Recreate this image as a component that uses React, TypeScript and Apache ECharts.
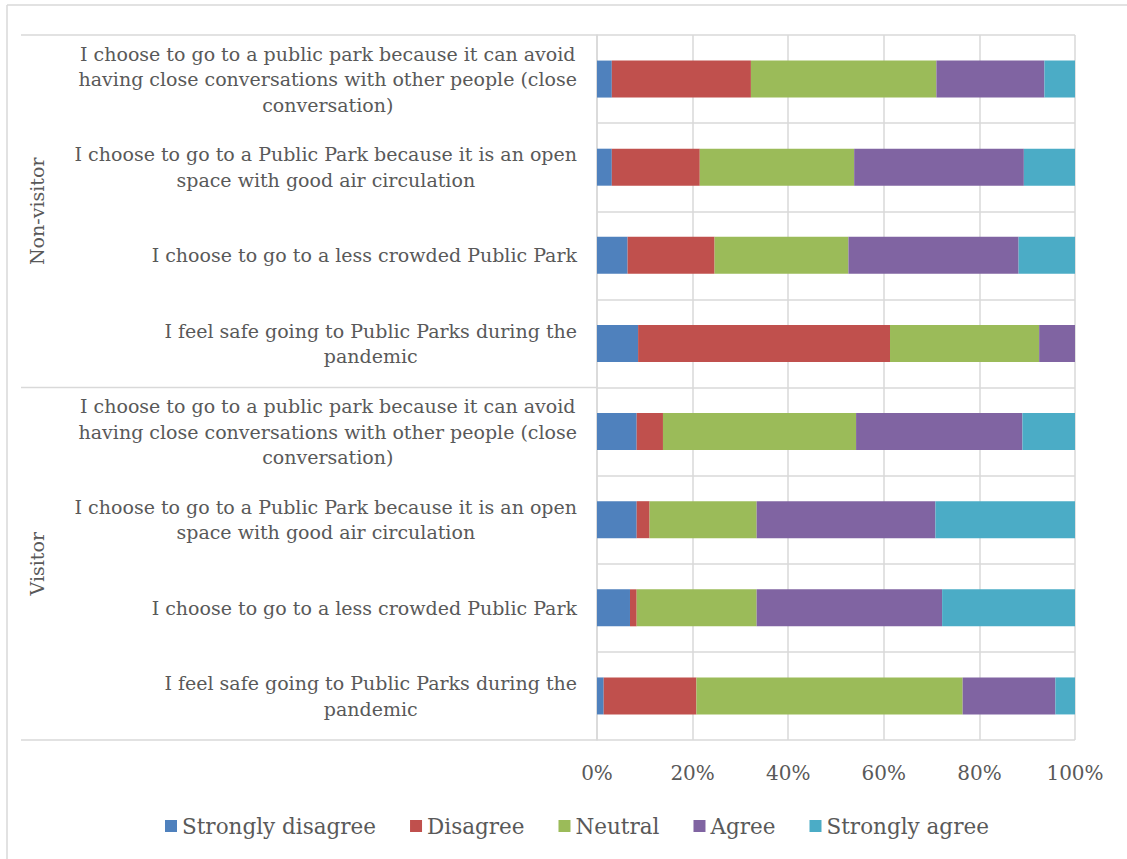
import React, { useEffect, useRef } from "react";
import * as echarts from "echarts";

const groups = ["Non-visitor", "Visitor"];
const questions = [
  "I choose to go to a public park because it can avoid\nhaving close conversations with other people (close\nconversation)",
  "I choose to go to a Public Park because it is an open\nspace with good air circulation",
  "I choose to go to a less crowded Public Park",
  "I feel safe going to Public Parks during the\npandemic",
];
const categories = [...questions, ...questions];

const seriesNames = ["Strongly disagree", "Disagree", "Neutral", "Agree", "Strongly agree"];
const stronglyDisagree = [3.1, 3.1, 6.4, 8.6, 8.3, 8.3, 6.9, 1.4];
const disagree = [29.1, 18.4, 18.2, 52.7, 5.5, 2.7, 1.4, 19.4];
const neutral = [38.8, 32.3, 28.0, 31.2, 40.4, 22.4, 25.1, 55.7];
const agree = [22.6, 35.5, 35.6, 7.5, 34.8, 37.4, 38.8, 19.4];
const stronglyAgree = [6.4, 10.7, 11.8, 0, 11.0, 29.2, 27.8, 4.1];
const seriesValues = [stronglyDisagree, disagree, neutral, agree, stronglyAgree];
const colors = ["#4f81bd", "#c0504d", "#9bbb59", "#8064a2", "#4bacc6"];
const xTicks = [0, 20, 40, 60, 80, 100];

const FONT = "DejaVu Serif";
const TEXT = "#595959";
const LINE = "#d9d9d9";

export default function App() {
  const ref = useRef<HTMLDivElement>(null);
  useEffect(() => {
    if (!ref.current) return;
    const chart = echarts.init(ref.current, null, { renderer: "svg" });
    chart.setOption({
      animation: false,
      backgroundColor: "#ffffff",
      grid: { left: 597, right: 52, top: 35, bottom: 119, containLabel: false },
      legend: {
        left: 160,
        top: 810,
        itemWidth: 12,
        itemHeight: 12,
        itemGap: 34,
        icon: "rect",
        textStyle: { fontFamily: FONT, fontSize: 21.5, color: TEXT },
        data: seriesNames,
      },
      xAxis: {
        type: "value",
        min: 0,
        max: xTicks[xTicks.length - 1],
        interval: 20,
        axisLine: { show: false },
        axisTick: { show: false },
        splitLine: { show: true, lineStyle: { color: LINE, width: 1.5 } },
        axisLabel: {
          fontFamily: FONT,
          fontSize: 20,
          color: TEXT,
          margin: 23,
          formatter: (v: number) => `${v}%`,
        },
      },
      yAxis: {
        type: "category",
        inverse: true,
        data: categories,
        axisLine: { show: true, lineStyle: { color: LINE, width: 1.5 } },
        axisTick: { show: false },
        splitLine: { show: true, lineStyle: { color: LINE, width: 1.5 } },
        axisLabel: {
          align: "right",
          margin: 20,
          interval: 0,
          formatter: (v: string) =>
            v
              .split("\n")
              .map((l) => `{c|${l}}`)
              .join("\n"),
          rich: {
            c: {
              align: "center",
              fontFamily: FONT,
              fontSize: 19,
              color: TEXT,
              lineHeight: 25.5,
            },
          },
        },
      },
      series: seriesNames.map((name, i) => ({
        name,
        type: "bar",
        stack: "total",
        barWidth: 37,
        itemStyle: { color: colors[i] },
        data: seriesValues[i],
      })),
    });

    const x0 = chart.convertToPixel({ xAxisIndex: 0 }, 0) as number;
    const yFirst = chart.convertToPixel({ yAxisIndex: 0 }, 0) as number;
    const yLast = chart.convertToPixel({ yAxisIndex: 0 }, categories.length - 1) as number;
    const step = (yLast - yFirst) / (categories.length - 1);
    const top = yFirst - step / 2;
    const per = questions.length;
    const graphics: any[] = [
      { type: "line", shape: { x1: 7, y1: 5, x2: 7, y2: 859 }, style: { stroke: LINE, lineWidth: 1.5 } },
      { type: "line", shape: { x1: 7, y1: 5, x2: 1127, y2: 5 }, style: { stroke: LINE, lineWidth: 1.5 } },
      { type: "line", shape: { x1: 21, y1: top, x2: x0, y2: top }, style: { stroke: LINE, lineWidth: 1.5 } },
    ];
    groups.forEach((g, gi) => {
      const gTop = top + gi * per * step;
      const gBot = gTop + per * step;
      graphics.push({
        type: "line",
        shape: { x1: 21, y1: gBot, x2: x0, y2: gBot },
        style: { stroke: LINE, lineWidth: 1.5 },
      });
      graphics.push({
        type: "text",
        x: 37,
        y: (gTop + gBot) / 2,
        rotation: Math.PI / 2,
        style: {
          text: g,
          fontFamily: FONT,
          fontSize: 19,
          fill: TEXT,
          align: "center",
          verticalAlign: "middle",
        },
      });
    });
    chart.setOption({ graphic: graphics });
    return () => chart.dispose();
  }, []);
  return (
    <div
      ref={ref}
      style={{ position: "fixed", left: 0, top: 0, width: 1127, height: 859, background: "#fff" }}
    />
  );
}
